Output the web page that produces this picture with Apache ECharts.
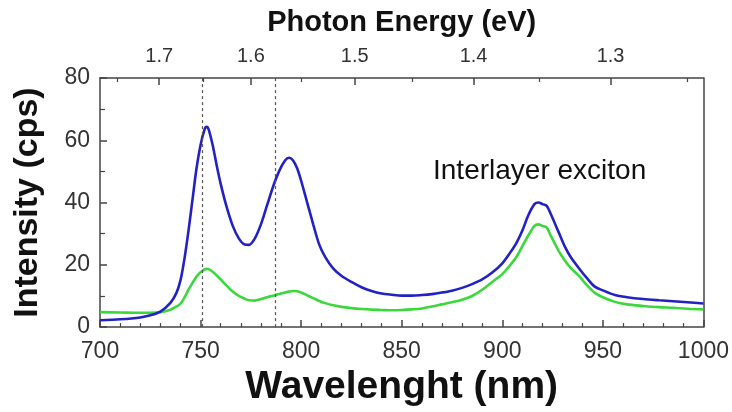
<!DOCTYPE html>
<html>
<head>
<meta charset="utf-8">
<script src="https://cdn.jsdelivr.net/npm/echarts@6/dist/echarts.min.js"></script>
<style>
  html, body { margin: 0; padding: 0; background: #fff; }
  #chart { width: 732px; height: 412px; }
</style>
</head>
<body>
<div id="chart"></div>
<script>
// Wavelength samples (nm)
var wavelengths = [700,710,720,725,730,735,738,740,742,744,746,748,750,752,753,754,756,758,760,763,766,769,772,774,777,780,783,786,789,792,794,796,798,800,803,806,809,812,816,820,825,830,835,840,845,850,855,860,865,870,875,880,885,890,895,900,904,907,910,913,916,918,920,922,924,926,928,931,934,938,942,946,950,956,962,970,978,985,992,1000];
// Blue spectrum (cps)
var blueSeries = [2.2,2.5,3.1,3.8,5,7.8,11,15,22,31,41,51,58.5,63.5,64.3,63.5,58.5,52,46,38.5,32.5,28.5,26.5,26.4,28.5,33,39,45,50,53.5,54.4,53.5,51,47,40,33,26.5,22.5,18.8,16.5,14.5,12.8,11.6,10.8,10.4,10.1,10.1,10.3,10.6,11.1,11.7,12.6,13.8,15.3,17.5,20.5,24,27,31,36,39.5,40,39.5,39,36.5,33.5,30.5,26,22.5,19,15.8,13,11.8,10.3,9.6,9,8.6,8.3,8,7.6];
// Green spectrum (cps)
var greenSeries = [4.8,4.7,4.6,4.6,4.8,5.6,6.6,7.5,9.5,12,14.2,16.2,17.6,18.5,18.7,18.6,17.8,16.6,15.3,13.3,11.4,10,9.1,8.6,8.5,9,9.6,10.1,10.6,11.1,11.4,11.6,11.5,11.1,10.2,9.3,8.4,7.7,7,6.5,6.1,5.8,5.6,5.5,5.4,5.5,5.7,6,6.6,7.3,8,8.8,10,12,14.5,17,20,22.5,26,29.5,32.5,33,32.5,32,29.5,27,24.5,21.5,19,16.5,13.5,11,9.6,8.1,7.3,6.8,6.4,6.2,5.9,5.7];
// Top axis: photon energy tick values (eV)
var energyMajorTicks = [1.7, 1.6, 1.5, 1.4, 1.3];
var energyMinorTicks = [1.75, 1.65, 1.55, 1.45, 1.35, 1.25];
// Dotted reference lines (nm)
var refLines = [751, 787];

var HC = 1240; // eV*nm
function toPairs(xs, ys) { return xs.map(function (x, i) { return [x, ys[i]]; }); }
var majorPos = energyMajorTicks.map(function (e) { return HC / e; });
var minorPos = energyMinorTicks.map(function (e) { return HC / e; });

var axisColor = '#444';
var chart = echarts.init(document.getElementById('chart'), null, { renderer: 'canvas' });
chart.setOption({
  animation: false,
  backgroundColor: '#fff',
  grid: { left: 100, right: 26, top: 78, bottom: 78, show: false, containLabel: false },
  xAxis: [
    {
      type: 'value', min: 700, max: 1000, interval: 50, position: 'bottom',
      name: 'Wavelenght (nm)', nameLocation: 'middle', nameGap: 34,
      nameTextStyle: { fontFamily: 'Liberation Sans', fontWeight: 'bold', fontSize: 39, color: '#111' },
      axisLine: { show: true, onZero: false, lineStyle: { color: axisColor, width: 1.5 } },
      axisTick: { show: true, inside: true, length: 7, lineStyle: { color: axisColor, width: 1.5 } },
      minorTick: { show: true, splitNumber: 5, length: 4, lineStyle: { color: axisColor, width: 1.2 } },
      axisLabel: { fontFamily: 'Liberation Sans', fontSize: 23, color: '#333', margin: 13, formatter: function (v) { return String(v); } },
      splitLine: { show: false }
    },
    {
      type: 'value', min: 700, max: 1000, position: 'top', offset: 0,
      name: 'Photon Energy (eV)', nameLocation: 'middle', nameGap: 41,
      nameTextStyle: { fontFamily: 'Liberation Sans', fontWeight: 'bold', fontSize: 29, color: '#111' },
      axisLine: { show: true, onZero: false, lineStyle: { color: axisColor, width: 1.5 } },
      axisTick: { show: true, inside: true, length: 7, customValues: majorPos, lineStyle: { color: axisColor, width: 1.5 } },
      axisLabel: {
        show: true, customValues: majorPos, fontFamily: 'Liberation Sans', fontSize: 20, color: '#333', margin: 12,
        formatter: function (v) { return (HC / v).toFixed(1); }
      },
      splitLine: { show: false }
    },
    {
      type: 'value', min: 700, max: 1000, position: 'top', offset: 0,
      axisLine: { show: false, onZero: false },
      axisTick: { show: true, inside: true, length: 4, customValues: minorPos, lineStyle: { color: axisColor, width: 1.2 } },
      axisLabel: { show: false },
      splitLine: { show: false }
    }
  ],
  yAxis: [
    {
      type: 'value', min: 0, max: 80, interval: 20, position: 'left',
      name: 'Intensity (cps)', nameLocation: 'middle', nameGap: 55,
      nameTextStyle: { fontFamily: 'Liberation Sans', fontWeight: 'bold', fontSize: 34, color: '#111' },
      axisLine: { show: true, onZero: false, lineStyle: { color: axisColor, width: 1.5 } },
      axisTick: { show: true, inside: true, length: 7, lineStyle: { color: axisColor, width: 1.5 } },
      minorTick: { show: true, splitNumber: 2, length: 5, lineStyle: { color: axisColor, width: 1.2 } },
      axisLabel: { fontFamily: 'Liberation Sans', fontSize: 23, color: '#333', margin: 10 },
      splitLine: { show: false }
    },
    {
      type: 'value', min: 0, max: 80, interval: 20, position: 'right',
      axisLine: { show: true, onZero: false, lineStyle: { color: axisColor, width: 1.5 } },
      axisTick: { show: false }, axisLabel: { show: false }, splitLine: { show: false }
    }
  ],
  graphic: [
    {
      type: 'text', left: 433, top: 157,
      style: { text: 'Interlayer exciton', font: '28px "Liberation Sans"', fill: '#111' }
    }
  ],
  series: [
    {
      type: 'line', name: 'blue', xAxisIndex: 0, yAxisIndex: 0, data: toPairs(wavelengths, blueSeries),
      showSymbol: false, smooth: 0.3, lineStyle: { color: '#2222c4', width: 2.6 }, itemStyle: { color: '#2222c4' },
      markLine: {
        silent: true, symbol: ['none', 'none'], label: { show: false },
        lineStyle: { color: '#555', type: [3, 3], width: 1.2 },
        data: refLines.map(function (x) { return { xAxis: x }; })
      },
      z: 3
    },
    {
      type: 'line', name: 'green', xAxisIndex: 0, yAxisIndex: 0, data: toPairs(wavelengths, greenSeries),
      showSymbol: false, smooth: 0.3, lineStyle: { color: '#3ad83a', width: 2.6 }, itemStyle: { color: '#3ad83a' },
      z: 2
    }
  ]
});
</script>
</body>
</html>
